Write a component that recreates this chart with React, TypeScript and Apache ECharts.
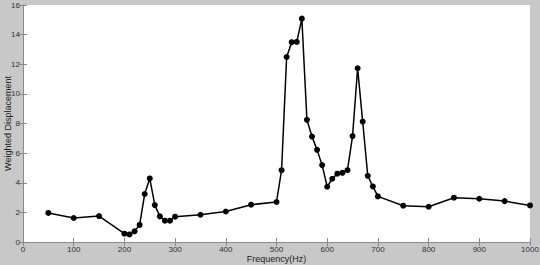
import React, { useEffect, useRef } from "react";
import * as echarts from "echarts";

const frequencies = [50, 100, 150, 200, 210, 220, 230, 240, 250, 260, 270, 280, 290, 300, 350, 400, 450, 500, 510, 520, 530, 540, 550, 560, 570, 580, 590, 600, 610, 620, 630, 640, 650, 660, 670, 680, 690, 700, 750, 800, 850, 900, 950, 1000];
const displacements = [1.96, 1.62, 1.75, 0.56, 0.51, 0.72, 1.15, 3.24, 4.29, 2.49, 1.73, 1.44, 1.44, 1.71, 1.84, 2.06, 2.52, 2.7, 4.85, 12.49, 13.49, 13.51, 15.08, 8.25, 7.12, 6.22, 5.19, 3.73, 4.27, 4.61, 4.67, 4.85, 7.15, 11.73, 8.13, 4.47, 3.75, 3.08, 2.45, 2.38, 2.99, 2.92, 2.76, 2.47];

const xTitle = "Frequency(Hz)";
const yTitle = "Weighted Displacement";

export default function App() {
  const ref = useRef<HTMLDivElement>(null);
  useEffect(() => {
    if (!ref.current) return;
    const chart = echarts.init(ref.current, null, { renderer: "svg" });
    const font = "Liberation Sans, Arial, sans-serif";
    const axisLine = { show: true, lineStyle: { color: "#8a8a8a", width: 1 } };
    const tick = { show: true, inside: true, length: 4, lineStyle: { color: "#8a8a8a", width: 1 } };
    chart.setOption({
      animation: false,
      backgroundColor: "#c8c8c8",
      grid: {
        left: 23, right: 10, top: 5, bottom: 23,
        outerBoundsMode: "none",
        containLabel: false,
        show: true, backgroundColor: "#ffffff", borderWidth: 0,
      },
      xAxis: [
        {
          type: "value", min: 0, max: 1000, interval: 100, position: "bottom",
          axisLine, axisTick: tick, splitLine: { show: false },
          axisLabel: { fontSize: 8, color: "#333", fontFamily: font, margin: 3, formatter: (v: number) => String(v) },
          name: xTitle, nameLocation: "middle", nameGap: 12.5, nameMoveOverlap: false,
          nameTextStyle: { fontSize: 9, color: "#222", fontFamily: font },
        },
        {
          type: "value", min: 0, max: 1000, interval: 100, position: "top",
          axisLine, axisTick: tick, splitLine: { show: false }, axisLabel: { show: false },
        },
      ],
      yAxis: [
        {
          type: "value", min: 0, max: 16, interval: 2, position: "left",
          axisLine, axisTick: tick, splitLine: { show: false },
          axisLabel: { fontSize: 8, color: "#333", fontFamily: font, margin: 3 },
          name: yTitle, nameLocation: "middle", nameGap: 11, nameMoveOverlap: false,
          nameTextStyle: { fontSize: 9, color: "#222", fontFamily: font },
        },
        {
          type: "value", min: 0, max: 16, interval: 2, position: "right",
          axisLine, axisTick: tick, splitLine: { show: false }, axisLabel: { show: false },
        },
      ],
      series: [
        {
          type: "line",
          data: frequencies.map((f, i) => [f, displacements[i]]),
          symbol: "circle",
          symbolSize: 6,
          lineStyle: { color: "#000", width: 1.5 },
          itemStyle: { color: "#000" },
        },
      ],
    });
    return () => chart.dispose();
  }, []);
  return <div ref={ref} style={{ width: 540, height: 265, position: "fixed", left: 0, top: 0 }} />;
}
